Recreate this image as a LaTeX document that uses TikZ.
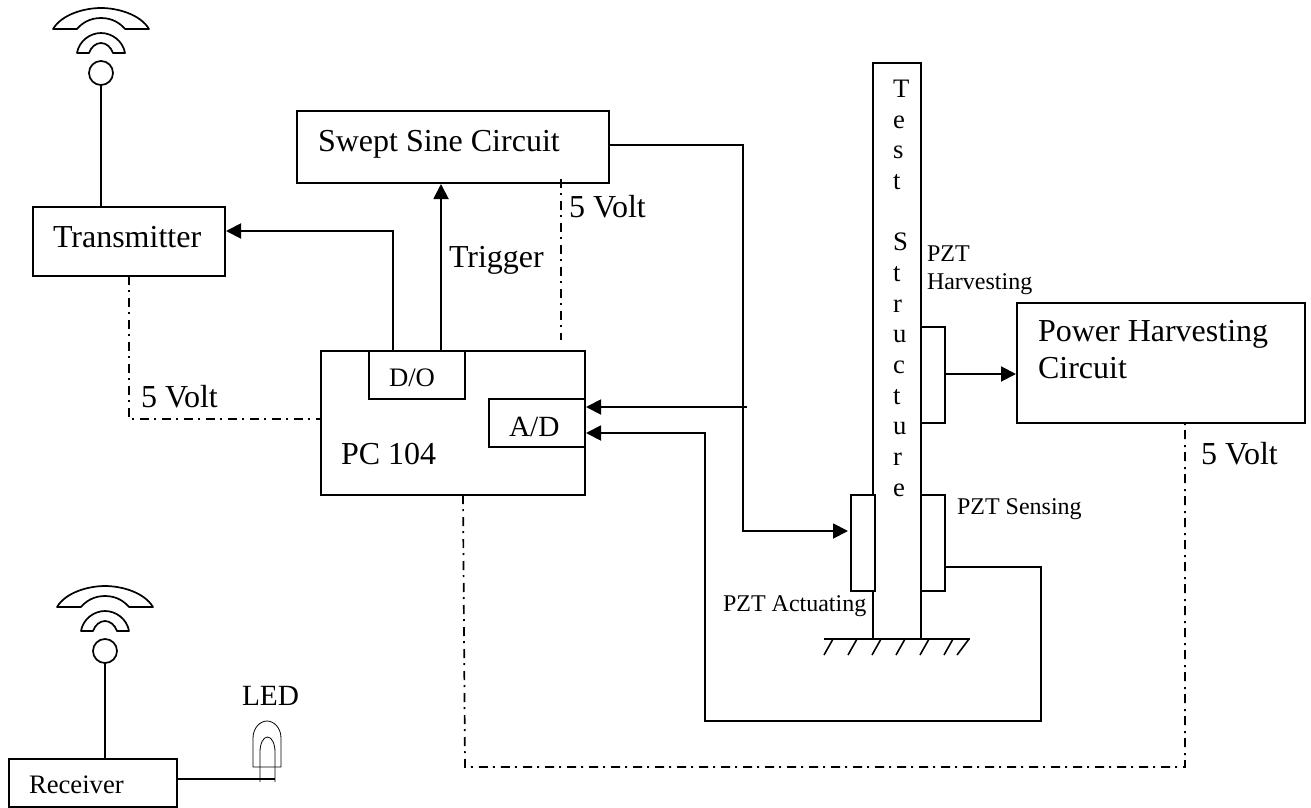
\documentclass[tikz,border=0pt]{standalone}
\usepackage{fontspec}
\setmainfont{Liberation Serif}
\usetikzlibrary{arrows.meta}
\tikzset{
  box/.style={draw=black,fill=white,rectangle,inner sep=0pt,outer sep=0pt,line width=1.9pt},
  wire/.style={draw=black,line width=1.9pt},
  arrowwire/.style={wire,-{Triangle[length=15pt,width=15pt]},shorten >=1pt},
  power/.style={draw=black,line width=1.7pt,dash pattern=on 9pt off 5pt on 2pt off 6pt},
  big/.style={inner sep=0pt,outer sep=0pt,anchor=base west,font=\fontsize{32}{37}\selectfont},
  mid/.style={inner sep=0pt,outer sep=0pt,anchor=base west,font=\fontsize{26.67}{30.67}\selectfont},
  small/.style={inner sep=0pt,outer sep=0pt,anchor=base west,font=\fontsize{24}{28}\selectfont},
  antennacap/.pic={
    \draw[line width=1.7pt,line join=round] (-48,-44) .. controls (-39,-59) and (-16,-65) .. (0,-65) .. controls (16,-65) and (39,-59) .. (48,-44) -- (24,-44) .. controls (19,-50) and (11,-55) .. (0,-55) .. controls (-11,-55) and (-19,-50) .. (-24,-44) -- cycle;
    \draw[line width=1.7pt,line join=round] (-24,-20) .. controls (-22,-32) and (-11,-40) .. (0,-40) .. controls (11,-40) and (22,-32) .. (24,-20) -- (12,-20) .. controls (10,-26) and (5,-30) .. (0,-30) .. controls (-5,-30) and (-10,-26) .. (-12,-20) -- cycle;
  }
}
\begin{document}
\begin{tikzpicture}[x=1pt,y=-1pt]
\useasboundingbox (0,0) rectangle (1311,808);

% antennas
\pic at (101,73) {antennacap};
\node[draw=black,line width=1.7pt,circle,minimum size=24pt,inner sep=0pt,outer sep=0pt] (antA) at (101,73) {};
\pic at (105,651) {antennacap};
\node[draw=black,line width=1.7pt,circle,minimum size=24pt,inner sep=0pt,outer sep=0pt] (antB) at (105,651) {};

% main boxes
\node[box,minimum width=192pt,minimum height=69pt] (tx) at (129,241.5) {};
\node[box,minimum width=312pt,minimum height=72pt] (swept) at (453,147) {};
\node[box,minimum width=264pt,minimum height=144pt] (pc) at (453,423) {};
\node[box,minimum width=96pt,minimum height=48pt] (do) at (417,375) {};
\node[box,minimum width=96pt,minimum height=48pt] (ad) at (537,423) {};
\node[box,minimum width=288pt,minimum height=120pt] (ph) at (1161,363) {};
\node[box,minimum width=168pt,minimum height=48pt] (rx) at (93,783) {};

% test structure and patches
\node[box,minimum width=48pt,minimum height=576pt] (test) at (897,351) {};
\node[box,minimum width=24pt,minimum height=96pt] (act) at (863,543) {};
\node[box,minimum width=24pt,minimum height=96pt] (sens) at (933,543) {};
\node[box,minimum width=24pt,minimum height=96pt] (harv) at (933,375) {};

% ground
\coordinate (gndL) at (824,639);
\coordinate (gndR) at (970,639);
\draw[wire] (gndL) -- (gndR);
\draw[wire,line width=1.6pt] (833,639) -- (824,655) (857,639) -- (848,655) (881,639) -- (872,655) (905,639) -- (896,655) (929,639) -- (920,655) (953,639) -- (944,655) (969,639) -- (957,655);

% LED
\node[inner sep=0pt,outer sep=0pt] (ledpin) at (275,779) {};
\draw[line width=0.8pt] (253,767) -- (253,738) .. controls (253,728) and (260,721) .. (267,721) .. controls (274,721) and (281,728) .. (281,738) -- (281,767) -- cycle;
\draw[line width=0.8pt] (260,782) -- (260,752) .. controls (260,744) and (263,737) .. (267.5,737) .. controls (272,737) and (275,744) .. (275,752) -- (275,782);

% solid connectors
\draw[wire] (antA.south) -- (antA.south |- tx.north);
\draw[wire] (antB.south) -- (antB.south |- rx.north);
\draw[wire] (rx.east |- ledpin) -- (ledpin);
\coordinate (doOutA) at (393,351);
\coordinate (doOutB) at (441,351);
\coordinate (txIn) at (225,231);
\draw[arrowwire] (doOutA) |- (txIn);
\draw[arrowwire] (doOutB) -- (doOutB |- swept.south);
\coordinate (swOut) at (609,145);
\coordinate (actIn) at (849,531);
\coordinate (swCorner) at (743,145);
\draw[arrowwire] (swOut) -- (swCorner) |- (actIn);
\coordinate (adTap) at (747,407);
\coordinate (adInA) at (585,407);
\coordinate (adInB) at (585,433);
\draw[arrowwire] (adTap) -- (adInA);
\coordinate (sensOut) at (945,567);
\coordinate (loopR) at (1041,721);
\coordinate (loopL) at (705,721);
\draw[arrowwire] (sensOut) -| (loopR) -- (loopL) |- (adInB);
\coordinate (harvOut) at (945,374);
\coordinate (phIn) at (1017,374);
\draw[arrowwire] (harvOut) -- (phIn);

% power lines
\coordinate (txPow) at (129,276);
\coordinate (pcPowL) at (321,419);
\draw[power] (txPow) |- (pcPowL);
\coordinate (swPow) at (561,179);
\coordinate (pcPowT) at (561,340);
\draw[power] (swPow) -- (pcPowT);
\coordinate (pcPowB) at (463,495);
\coordinate (bottomL) at (465,767);
\coordinate (phPow) at (1185,423);
\draw[power] (pcPowB) -- (bottomL) -| (phPow);

% labels
\node[big] (tTx) at (53,247) {Transmitter};
\node[big] (tSw) at (318,151) {Swept Sine Circuit};
\node[big] (tTr) at (449,267) {Trigger};
\node[big] (tV1) at (569,217) {5 Volt};
\node[big] (tV2) at (141,407) {5 Volt};
\node[big] (tV3) at (1201,464) {5 Volt};
\node[big] (tPC) at (341,464) {PC 104};
\node[mid] (tDO) at (389,386) {D/O};
\node[inner sep=0pt,outer sep=0pt,anchor=base west,font=\fontsize{29.33}{33}\selectfont] (tAD) at (509,436) {A/D};
\node[mid] (tRx) at (29,793) {Receiver};
\node[inner sep=0pt,outer sep=0pt,anchor=base west,font=\fontsize{29.33}{33}\selectfont] (tLED) at (242,705) {LED};
\node[small] (tAct) at (723,611) {PZT Actuating};
\node[small] (tSen) at (957,514) {PZT Sensing};
\node[small,anchor=north west,align=left] (tHar) at (927,246) {PZT\\Harvesting};
\node[big,anchor=north west,align=left] (tPH) at (1038,320) {Power Harvesting\\Circuit};
\node[mid,anchor=north west,align=left] (tTS) at (893,80) {T\\e\\s\\t\\[30.67pt]S\\t\\r\\u\\c\\t\\u\\r\\e};
\end{tikzpicture}
\end{document}
